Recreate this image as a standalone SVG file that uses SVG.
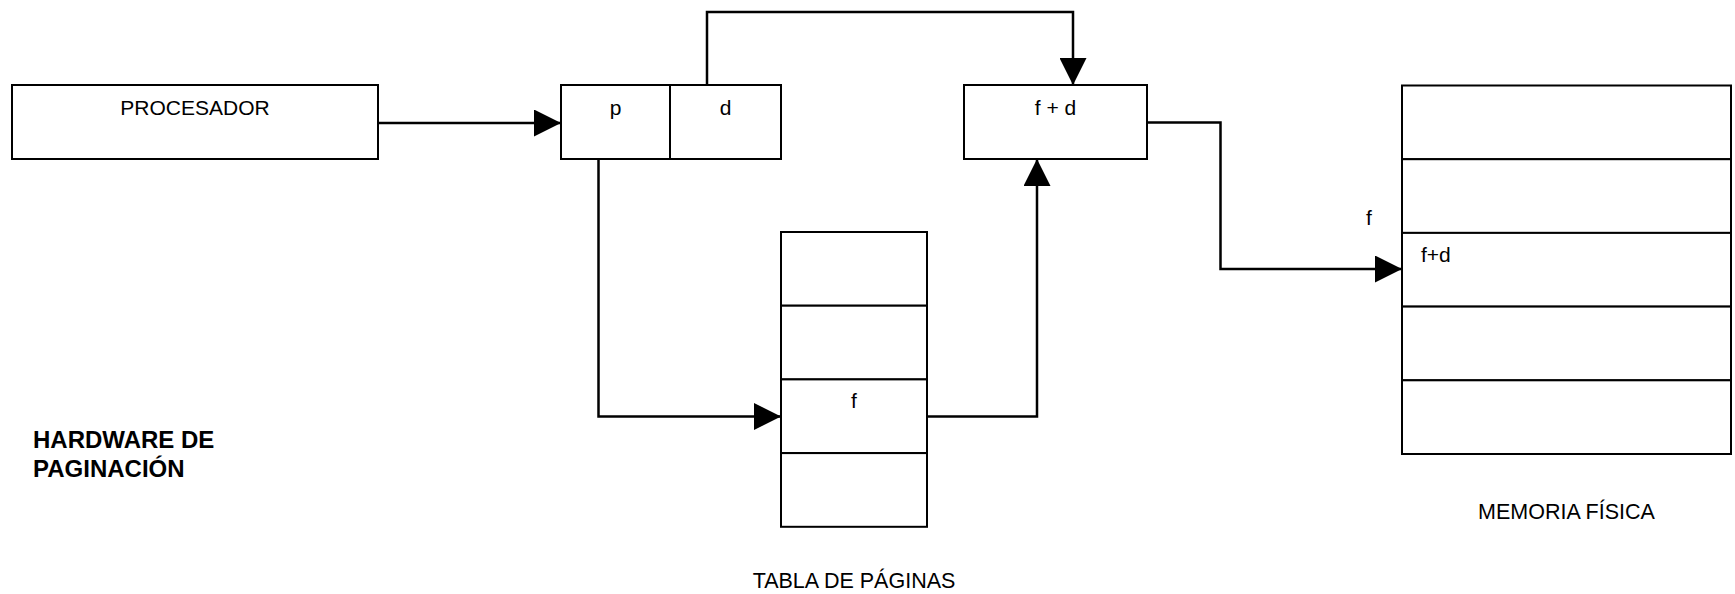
<svg xmlns="http://www.w3.org/2000/svg" width="1735" height="594" viewBox="0 0 1735 594">
<style>
.box{fill:#fff;stroke:#000;stroke-width:2}
.ln{fill:none;stroke:#000;stroke-width:2.5}
.t{font-family:"Liberation Sans",Arial,sans-serif;font-size:21px;fill:#000}
.c{text-anchor:middle}
.lb{font-size:21.5px}
.b{font-weight:bold;font-size:24px}
</style>
<defs>
<marker id="ah" viewBox="0 0 27 27" refX="27" refY="13.5" markerWidth="27" markerHeight="27" markerUnits="userSpaceOnUse" orient="auto">
<path d="M0,0 L27,13.5 L0,27 Z" fill="#000"/>
</marker>
</defs>
<g id="procesador">
<rect class="box" x="12" y="85" width="366" height="74"/>
<text class="t c" x="195" y="115">PROCESADOR</text>
</g>
<g id="direccion-logica">
<rect class="box" x="561" y="85" width="109" height="74"/>
<rect class="box" x="670" y="85" width="111" height="74"/>
<text class="t c" x="615.5" y="115">p</text>
<text class="t c" x="725.5" y="115">d</text>
</g>
<g id="direccion-fisica">
<rect class="box" x="964" y="85" width="183" height="74"/>
<text class="t c" x="1055.5" y="115">f + d</text>
</g>
<g id="tabla-paginas">
<rect class="box" x="781" y="232" width="146" height="73.7"/>
<rect class="box" x="781" y="305.7" width="146" height="73.7"/>
<rect class="box" x="781" y="379.4" width="146" height="73.7"/>
<rect class="box" x="781" y="453.1" width="146" height="73.7"/>
<text class="t c" x="854" y="408">f</text>
<text class="t c lb" x="854" y="588">TABLA DE PÁGINAS</text>
</g>
<g id="memoria-fisica">
<rect class="box" x="1402" y="85.5" width="329" height="73.7"/>
<rect class="box" x="1402" y="159.2" width="329" height="73.7"/>
<rect class="box" x="1402" y="232.9" width="329" height="73.7"/>
<rect class="box" x="1402" y="306.6" width="329" height="73.7"/>
<rect class="box" x="1402" y="380.3" width="329" height="73.7"/>
<text class="t" x="1366" y="225">f</text>
<text class="t" x="1421" y="262">f+d</text>
<text class="t c lb" x="1566.5" y="519">MEMORIA FÍSICA</text>
</g>
<g id="titulo">
<text class="t b" x="33" y="448">HARDWARE DE</text>
<text class="t b" x="33" y="477">PAGINACIÓN</text>
</g>
<g id="connectors">
<path class="ln" d="M378,123 H561" marker-end="url(#ah)"/>
<path class="ln" d="M707,85 V12 H1073 V85" marker-end="url(#ah)"/>
<path class="ln" d="M598.5,159 V416.5 H781" marker-end="url(#ah)"/>
<path class="ln" d="M927,416.5 H1037 V159" marker-end="url(#ah)"/>
<path class="ln" d="M1147,122.5 H1220.5 V269 H1402" marker-end="url(#ah)"/>
</g>
</svg>
